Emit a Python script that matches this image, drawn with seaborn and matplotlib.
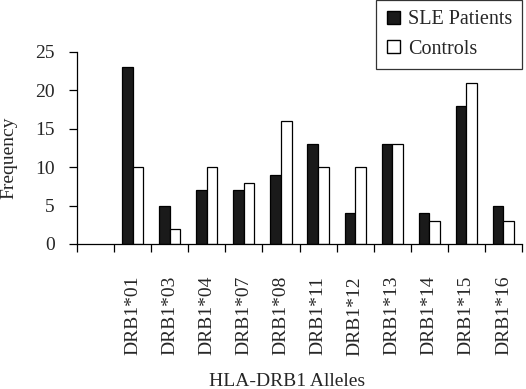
import matplotlib
matplotlib.use("Agg")
import matplotlib.pyplot as plt
import seaborn as sns
import pandas as pd
from matplotlib.patches import Patch

# data
alleles = ["DRB1*01", "DRB1*03", "DRB1*04", "DRB1*07", "DRB1*08", "DRB1*11",
           "DRB1*12", "DRB1*13", "DRB1*14", "DRB1*15", "DRB1*16"]
sle_patients = [23, 5, 7, 7, 9, 13, 4, 13, 4, 18, 5]
controls = [10, 2, 10, 8, 16, 10, 10, 13, 3, 21, 3]
groups = ["SLE Patients", "Controls"]

df = pd.DataFrame({
    "Allele": alleles * 2,
    "Group": [groups[0]] * len(alleles) + [groups[1]] * len(alleles),
    "Frequency": sle_patients + controls,
})

sns.set_style("white")
plt.rcParams["font.family"] = ["Liberation Serif", "DejaVu Serif"]

fig = plt.figure(figsize=(5.26, 3.89), dpi=100)
ax = fig.add_axes([77 / 526, 145 / 389, 445 / 526, 192 / 389])

# first slot left empty as in the original
order = [""] + alleles
sns.barplot(data=df, x="Allele", y="Frequency", hue="Group", order=order,
            hue_order=groups, palette={"SLE Patients": "#1a1a1a", "Controls": "white"},
            width=0.57, edgecolor="black", linewidth=0.9, saturation=1,
            legend=False, ax=ax)

ax.set_xlim(-0.5, len(order) - 0.5)
ax.set_ylim(0, 25)
ax.set_yticks([0, 5, 10, 15, 20, 25])

# category ticks between the slots, labels in the middle
ax.set_xticks([i - 0.5 for i in range(len(order) + 1)], minor=True)
ax.tick_params(axis="x", which="minor", bottom=True, length=6, width=0.9,
               direction="out", color="black")
ax.tick_params(axis="x", which="major", bottom=True, length=0, pad=23,
               labelsize=14, rotation=90)
ax.tick_params(axis="y", length=6, width=0.9, direction="out", color="black",
               pad=10, labelsize=14, left=True)

sns.despine(ax=ax)
for s in ["left", "bottom"]:
    ax.spines[s].set_color("black")
    ax.spines[s].set_linewidth(0.9)

ax.set_xlabel("HLA-DRB1 Alleles", fontsize=14)
ax.xaxis.set_label_coords(0.472, -0.67)
ax.set_ylabel("Frequency", fontsize=14)
ax.yaxis.set_label_coords(-0.133, 0.45)

handles = [Patch(facecolor="#1a1a1a", edgecolor="black", label=groups[0]),
           Patch(facecolor="white", edgecolor="black", label=groups[1])]
leg = fig.legend(handles=handles, loc="upper right", bbox_to_anchor=(522 / 526, 0.999),
                 borderaxespad=0, frameon=True, fancybox=False, edgecolor="black",
                 fontsize=14.5, handlelength=0.65, handleheight=0.65, handletextpad=0.4,
                 borderpad=0.5, labelspacing=0.5)
leg.get_frame().set_linewidth(0.9)

fig.savefig("out.png", dpi=100)
